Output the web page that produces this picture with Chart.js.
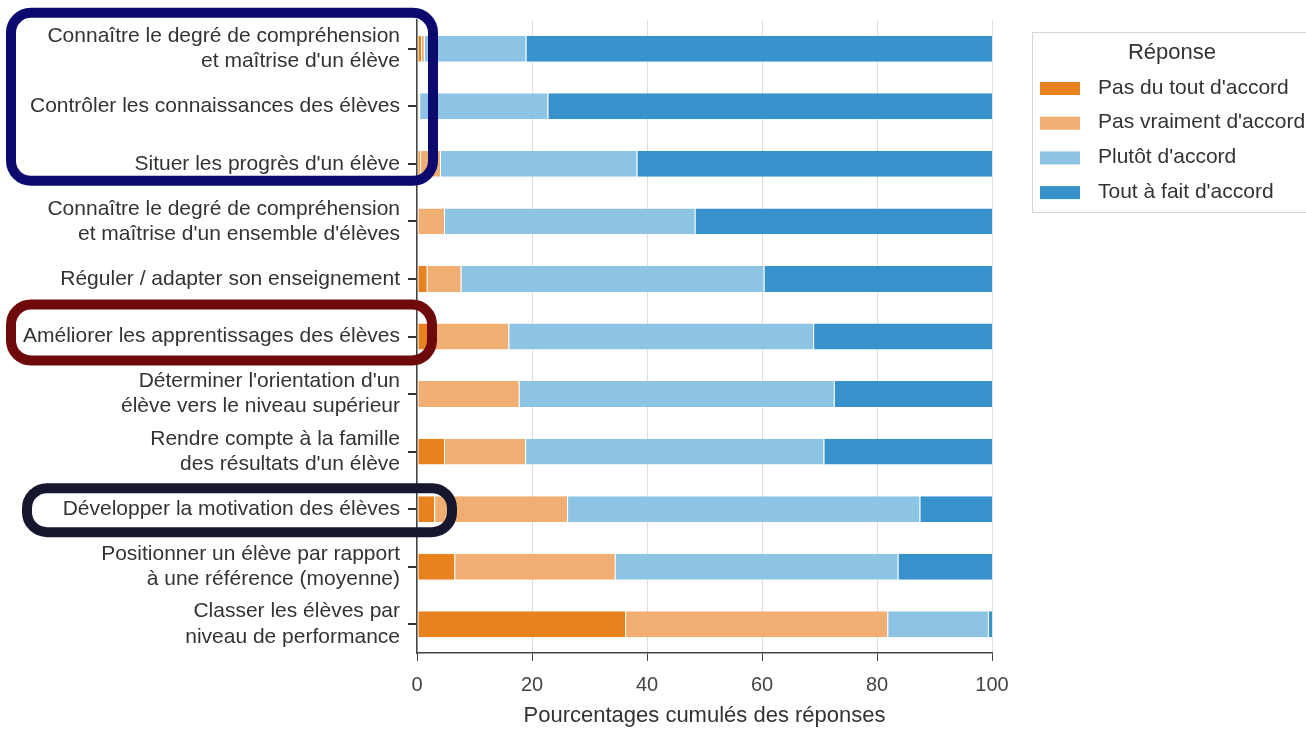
<!DOCTYPE html>
<html>
<head>
<meta charset="utf-8">
<script src="https://cdn.jsdelivr.net/npm/chart.js@4"></script>
<style>
  html, body { margin: 0; padding: 0; background: #fff; }
  #wrap { width: 1306px; height: 729px; position: relative; }
</style>
</head>
<body>
<div id="wrap"><canvas id="reponsesChart"></canvas></div>
<script>
// usages de l'évaluation (axe vertical)
const categories = [
  ['Connaître le degré de compréhension', "et maîtrise d'un élève"],
  'Contrôler les connaissances des élèves',
  "Situer les progrès d'un élève",
  ['Connaître le degré de compréhension', "et maîtrise d'un ensemble d'élèves"],
  'Réguler / adapter son enseignement',
  'Améliorer les apprentissages des élèves',
  ["Déterminer l'orientation d'un", 'élève vers le niveau supérieur'],
  ['Rendre compte à la famille', "des résultats d'un élève"],
  'Développer la motivation des élèves',
  ['Positionner un élève par rapport', 'à une référence (moyenne)'],
  ['Classer les élèves par', 'niveau de performance']
];

// pourcentages par modalité de réponse
const pasDuTout   = [0.7, 0.2, 0.5, 0.0, 1.7, 2.0, 0.0, 4.7, 3.0, 6.5, 36.2];
const pasVraiment = [0.5, 0.2, 3.5, 4.7, 5.9, 13.9, 17.7, 14.1, 23.1, 27.9, 45.6];
const plutot      = [17.7, 22.3, 34.2, 43.6, 52.7, 53.0, 54.8, 51.9, 61.3, 49.2, 17.5];
const toutAFait   = [81.1, 77.3, 61.8, 51.7, 39.7, 31.1, 27.5, 29.3, 12.6, 16.4, 0.7];

const seriesNames = ["Pas du tout d'accord", "Pas vraiment d'accord", "Plutôt d'accord", "Tout à fait d'accord"];
const seriesColors = ['#e8821e', '#f1ae72', '#8dc4e4', '#3792cb'];
const xTicks = [0, 20, 40, 60, 80, 100];

// cadres de mise en évidence autour de certains libellés
const highlights = [
  { first: 0, last: 2, color: '#0c0a6e', left: -411, right: 21, above: 41, below: 22 },
  { first: 5, last: 5, color: '#6e0a0c', left: -411, right: 20, above: 37, below: 29 },
  { first: 8, last: 8, color: '#16162e', left: -395, right: 40, above: 26, below: 28 }
];

Chart.defaults.font.family = '"Liberation Sans", Arial, sans-serif';
Chart.defaults.color = '#333';

const highlightPlugin = {
  id: 'highlightBoxes',
  afterDraw(chart) {
    const ctx = chart.ctx;
    const y = chart.scales.y;
    const left = chart.chartArea.left;
    ctx.save();
    highlights.forEach(h => {
      const lw = 10;
      const x0 = left + h.left + lw / 2;
      const x1 = left + h.right - lw / 2;
      const y0 = y.getPixelForValue(h.first) - h.above + lw / 2;
      const y1 = y.getPixelForValue(h.last) + h.below - lw / 2;
      ctx.lineWidth = lw;
      ctx.strokeStyle = h.color;
      ctx.beginPath();
      ctx.roundRect(x0, y0, x1 - x0, y1 - y0, 20);
      ctx.stroke();
    });
    ctx.restore();
  }
};

const legendPlugin = {
  id: 'boxLegend',
  afterDraw(chart) {
    const ctx = chart.ctx;
    const area = chart.chartArea;
    const x0 = area.right + 40;
    const y0 = area.top + 12;
    ctx.save();
    ctx.strokeStyle = '#d6d6d6';
    ctx.lineWidth = 1;
    ctx.strokeRect(x0 + 0.5, y0 + 0.5, 300, 180);
    ctx.fillStyle = '#333';
    ctx.textBaseline = 'middle';
    ctx.textAlign = 'center';
    ctx.font = '22px "Liberation Sans", Arial, sans-serif';
    ctx.fillText('Réponse', x0 + 140, y0 + 21);
    ctx.textAlign = 'left';
    ctx.font = '21px "Liberation Sans", Arial, sans-serif';
    chart.data.datasets.forEach((ds, i) => {
      const cy = y0 + 56 + i * 34.7;
      ctx.fillStyle = ds.backgroundColor;
      ctx.fillRect(x0 + 8, cy - 6, 40, 13);
      ctx.fillStyle = '#333';
      ctx.fillText(ds.label, x0 + 66, cy);
    });
    ctx.restore();
  }
};

const seriesData = [pasDuTout, pasVraiment, plutot, toutAFait];

new Chart(document.getElementById('reponsesChart').getContext('2d'), {
  type: 'bar',
  data: {
    labels: categories,
    datasets: seriesNames.map((name, i) => ({
      label: name,
      data: seriesData[i],
      backgroundColor: seriesColors[i],
      borderColor: '#ffffff',
      borderWidth: { left: 1, right: 0, top: 0, bottom: 0 },
      borderSkipped: false,
      barPercentage: 0.9,
      categoryPercentage: 0.5
    }))
  },
  options: {
    indexAxis: 'y',
    responsive: true,
    maintainAspectRatio: false,
    animation: false,
    layout: { padding: { top: 20, right: 314, left: 0, bottom: 0 } },
    scales: {
      x: {
        stacked: true,
        min: 0,
        max: 100,
        afterBuildTicks: scale => { scale.ticks = xTicks.map(v => ({ value: v })); },
        afterFit: scale => { scale.height = 76; },
        grid: { color: '#dedede', lineWidth: 1, tickColor: '#444', tickLength: 8 },
        border: { display: true, color: '#444', width: 1.5, z: 1 },
        ticks: { font: { size: 20 }, color: '#444', padding: 12 },
        title: {
          display: true,
          text: 'Pourcentages cumulés des réponses',
          font: { size: 22 },
          color: '#333',
          padding: { top: 0, bottom: 0 }
        }
      },
      y: {
        stacked: true,
        afterFit: scale => {
          scale.width = 417;
          scale.paddingTop = 0;
          scale.paddingBottom = 0;
        },
        grid: { offset: false, drawOnChartArea: false, tickColor: '#333', tickLength: 9, lineWidth: 2 },
        border: { display: true, color: '#444', width: 1.5, z: 1 },
        ticks: { font: { size: 21, lineHeight: 1.2 }, color: '#333', padding: 8 }
      }
    },
    plugins: {
      legend: { display: false },
      tooltip: { enabled: false }
    }
  },
  plugins: [highlightPlugin, legendPlugin]
});
</script>
</body>
</html>
